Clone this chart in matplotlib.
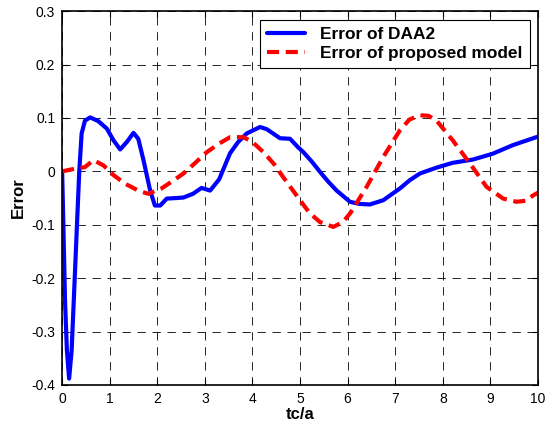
import numpy as np
import matplotlib.pyplot as plt

plt.rcParams['font.family'] = ['Liberation Sans', 'DejaVu Sans']

# error of DAA2 (blue)
daa2_x = [0.0, 0.03, 0.06, 0.1, 0.147, 0.2, 0.26, 0.31, 0.36, 0.41, 0.48,
          0.59, 0.76, 0.94, 1.08, 1.22, 1.36, 1.5, 1.6, 1.71, 1.85, 1.95,
          2.06, 2.2, 2.4, 2.55, 2.75, 2.93, 3.11, 3.3, 3.53, 3.7, 3.88, 4.16,
          4.3, 4.58, 4.79, 4.96, 5.07, 5.25, 5.42, 5.6, 5.77, 6.05, 6.25,
          6.47, 6.75, 7.1, 7.3, 7.52, 7.87, 8.21, 8.63, 9.05, 9.47, 9.9, 10.0]
daa2_y = [0.0, -0.116, -0.24, -0.335, -0.388, -0.335, -0.21, -0.104, 0.0,
          0.071, 0.095, 0.101, 0.094, 0.08, 0.058, 0.041, 0.055, 0.072,
          0.061, 0.021, -0.036, -0.064, -0.064, -0.051, -0.05, -0.049,
          -0.042, -0.031, -0.036, -0.015, 0.034, 0.055, 0.071, 0.083, 0.079,
          0.062, 0.061, 0.045, 0.036, 0.018, -0.001, -0.02, -0.036, -0.057,
          -0.061, -0.062, -0.054, -0.032, -0.017, -0.004, 0.007, 0.016,
          0.022, 0.033, 0.049, 0.062, 0.065]

# error of proposed model (red dashed)
prop_x = [0.0, 0.27, 0.48, 0.66, 0.87, 1.08, 1.32, 1.6, 1.81, 2.09, 2.34,
          2.55, 2.8, 3.04, 3.3, 3.53, 3.81, 4.0, 4.23, 4.45, 4.64, 5.0, 5.2,
          5.42, 5.7, 5.9, 6.05, 6.4, 6.75, 7.1, 7.3, 7.52, 7.7, 7.87, 8.21,
          8.57, 8.92, 9.27, 9.55, 9.75, 9.9, 10.0]
prop_y = [0.0, 0.005, 0.008, 0.021, 0.011, -0.007, -0.023, -0.036, -0.042,
          -0.032, -0.017, -0.004, 0.016, 0.036, 0.052, 0.064, 0.064, 0.055,
          0.036, 0.014, -0.01, -0.054, -0.078, -0.095, -0.104, -0.095,
          -0.079, -0.029, 0.027, 0.077, 0.097, 0.105, 0.104, 0.095, 0.058,
          0.015, -0.029, -0.051, -0.057, -0.055, -0.045, -0.04]

x_ticks = np.arange(0, 11, 1)
y_ticks = [-0.4, -0.3, -0.2, -0.1, 0, 0.1, 0.2, 0.3]
y_labels = ['-0.4', '-0.3', '-0.2', '-0.1', '0', '0.1', '0.2', '0.3']

fig = plt.figure(figsize=(5.45, 4.28), dpi=100)
ax = fig.add_axes([0.114, 0.1005, 0.873, 0.8735])

ax.plot(daa2_x, daa2_y, color='#0000ff', lw=3, label='Error of DAA2',
        solid_joinstyle='round', solid_capstyle='round')
ax.plot(prop_x, prop_y, color='#ff0000', lw=3, dashes=(2.9, 1.6),
        dash_joinstyle='round', label='Error of proposed model')

ax.set_xlim(0, 10)
ax.set_ylim(-0.4, 0.3)
ax.set_xticks(x_ticks)
ax.set_yticks(y_ticks)
ax.set_yticklabels(y_labels)
ax.tick_params(direction='in', length=4, width=0.8, labelsize=10,
               top=True, right=True, pad=5)
ax.grid(True, color='black', linestyle=(0, (10, 8)), linewidth=0.6)
for s in ax.spines.values():
    s.set_linewidth(1.2)

ax.set_xlabel('tc/a', fontsize=12, fontweight='bold', labelpad=1)
ax.set_ylabel('Error', fontsize=12, fontweight='bold', labelpad=4)

leg = ax.legend(loc='upper right', bbox_to_anchor=(0.99, 0.985),
                prop={'weight': 'bold', 'size': 12.4}, fancybox=False,
                framealpha=1, edgecolor='black', handlelength=2.2,
                handletextpad=0.9, borderpad=0.4, labelspacing=0.2,
                borderaxespad=0.2)
leg.get_frame().set_linewidth(0.8)

fig.savefig('out.png', dpi=100)
